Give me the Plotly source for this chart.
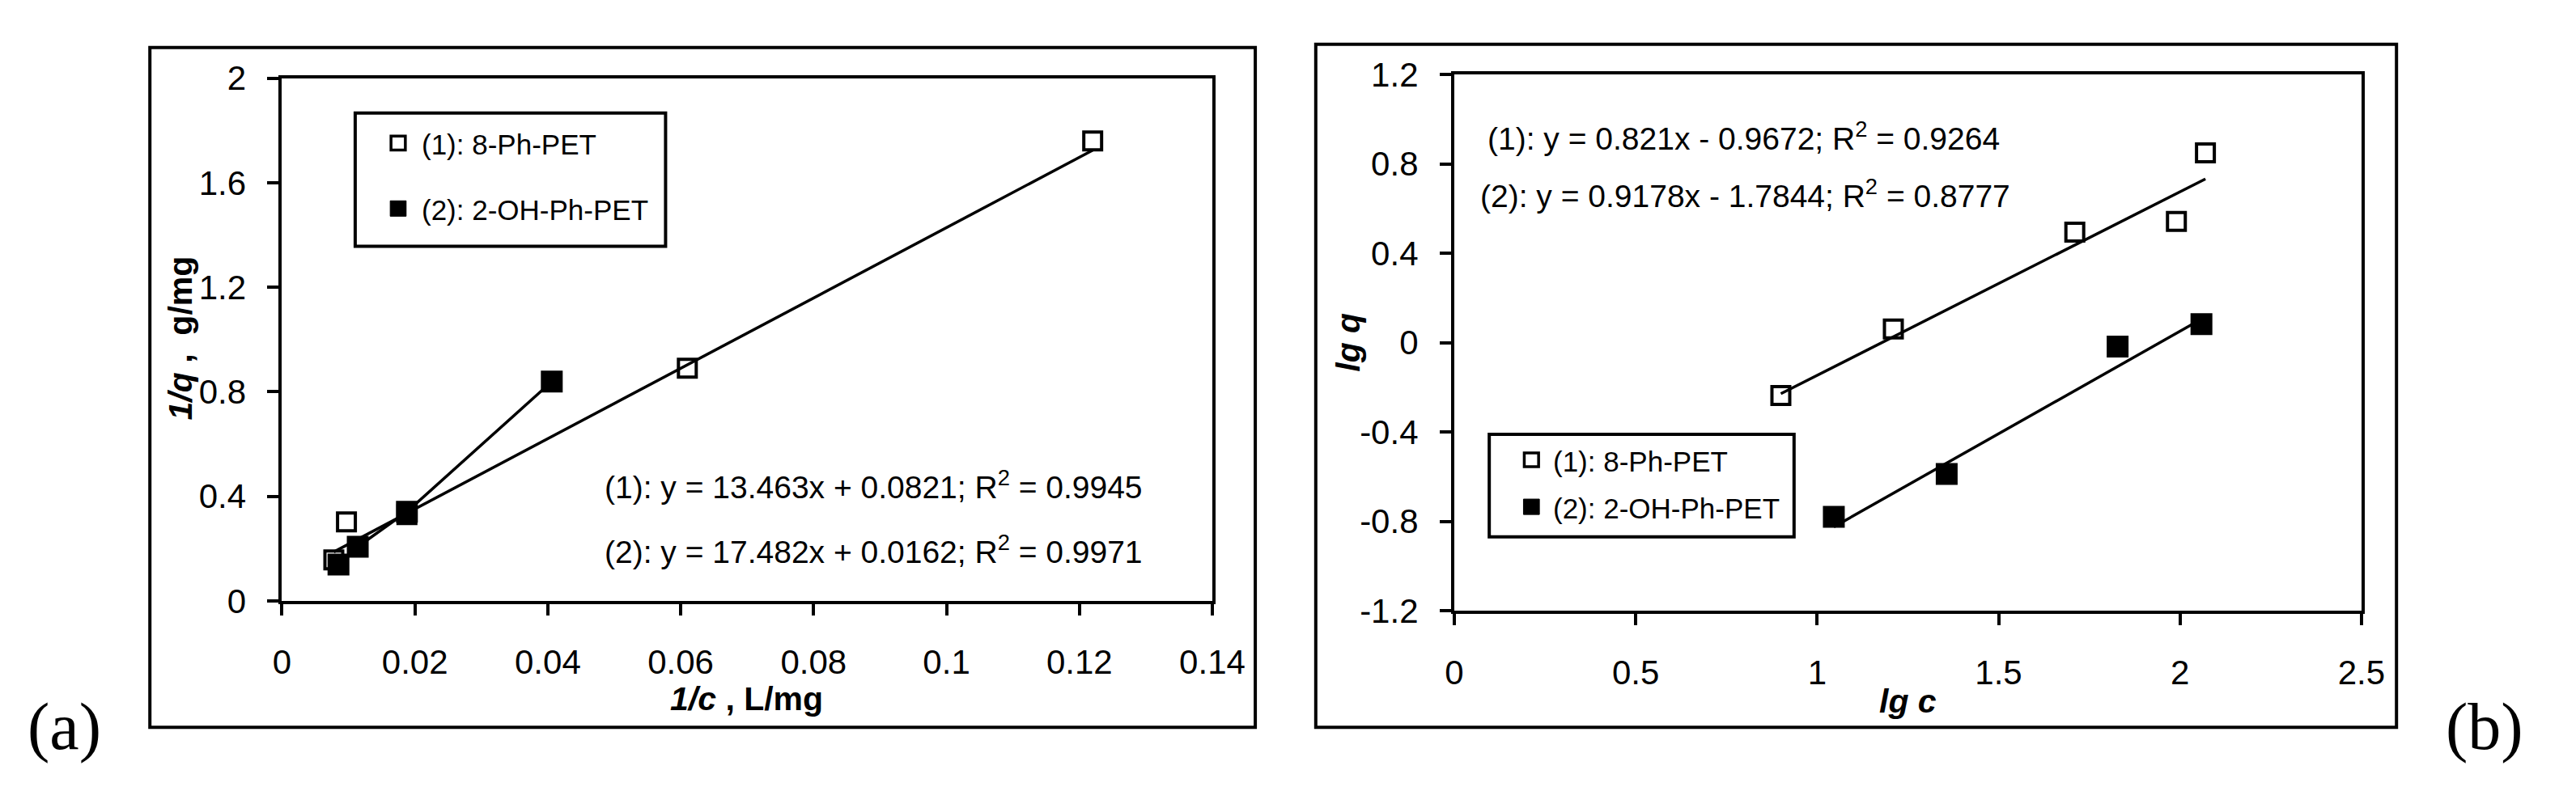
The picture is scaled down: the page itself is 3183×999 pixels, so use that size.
import plotly.graph_objects as go

W, H = 3183, 999
OFF = 8  # default body margin of the html page

# ---- panel (a): Langmuir linearisation ----
a_s1_x = [0.0078, 0.0097, 0.0188, 0.061, 0.122]
a_s1_y = [0.157, 0.302, 0.33, 0.89, 1.76]
a_s2_x = [0.0085, 0.0114, 0.0188, 0.0406]
a_s2_y = [0.139, 0.207, 0.341, 0.839]
a_fit1 = (13.463, 0.0821)

a_xticks = [0, 0.02, 0.04, 0.06, 0.08, 0.1, 0.12, 0.14]
a_xtext = ["0", "0.02", "0.04", "0.06", "0.08", "0.1", "0.12", "0.14"]
a_yticks = [0, 0.4, 0.8, 1.2, 1.6, 2]
a_ytext = ["0", "0.4", "0.8", "1.2", "1.6", "2"]

# ---- panel (b): Freundlich linearisation ----
b_s1_x = [0.90, 1.21, 1.71, 1.99, 2.07]
b_s1_y = [-0.237, 0.061, 0.494, 0.542, 0.849]
b_s2_x = [1.046, 1.357, 1.828, 2.059]
b_s2_y = [-0.779, -0.588, -0.018, 0.083]
b_fit1 = (0.821, -0.9672)
b_fit2 = (0.9178, -1.7844)

b_xticks = [0, 0.5, 1, 1.5, 2, 2.5]
b_xtext = ["0", "0.5", "1", "1.5", "2", "2.5"]
b_yticks = [-1.2, -0.8, -0.4, 0, 0.4, 0.8, 1.2]
b_ytext = ["-1.2", "-0.8", "-0.4", "0", "0.4", "0.8", "1.2"]

names = ["(1): 8-Ph-PET", "(2): 2-OH-Ph-PET"]
eq_a = ["(1): y = 13.463x + 0.0821; R<sup>2</sup> = 0.9945",
        "(2): y = 17.482x + 0.0162; R<sup>2</sup> = 0.9971"]
eq_b = ["(1): y = 0.821x - 0.9672; R<sup>2</sup> = 0.9264",
        "(2): y = 0.9178x - 1.7844; R<sup>2</sup> = 0.8777"]

FONT = "Liberation Sans, Arial, sans-serif"
LW = 4
FIT_W = 3.5


def px(x):
    return (x - OFF) / W


def py(y):
    return 1 - (y - OFF) / H


def fit_line(xs, coef):
    lo, hi = min(xs), max(xs)
    return [lo, hi], [coef[0] * lo + coef[1], coef[0] * hi + coef[1]]


fig = go.Figure()

open_marker = dict(symbol="square-open", size=22, color="black", line=dict(width=4, color="black"))
fill_marker = dict(symbol="square", size=24, color="black", line=dict(width=3, color="black"))

# panel (a)
lx, ly = fit_line(a_s1_x, a_fit1)
fig.add_trace(go.Scatter(x=lx, y=ly, mode="lines", line=dict(color="black", width=FIT_W),
                         showlegend=False, xaxis="x", yaxis="y"))
fig.add_trace(go.Scatter(x=a_s2_x, y=a_s2_y, mode="lines", line=dict(color="black", width=FIT_W),
                         showlegend=False, xaxis="x", yaxis="y"))
fig.add_trace(go.Scatter(x=a_s1_x, y=a_s1_y, mode="markers", marker=open_marker, name=names[0],
                         showlegend=False, xaxis="x", yaxis="y"))
fig.add_trace(go.Scatter(x=a_s2_x, y=a_s2_y, mode="markers", marker=fill_marker, name=names[1],
                         showlegend=False, xaxis="x", yaxis="y"))

# panel (b)
for xs, coef in [(b_s1_x, b_fit1), (b_s2_x, b_fit2)]:
    lx, ly = fit_line(xs, coef)
    fig.add_trace(go.Scatter(x=lx, y=ly, mode="lines", line=dict(color="black", width=FIT_W),
                             showlegend=False, xaxis="x2", yaxis="y2"))
fig.add_trace(go.Scatter(x=b_s1_x, y=b_s1_y, mode="markers", marker=open_marker, name=names[0],
                         showlegend=False, xaxis="x2", yaxis="y2"))
fig.add_trace(go.Scatter(x=b_s2_x, y=b_s2_y, mode="markers", marker=fill_marker, name=names[1],
                         showlegend=False, xaxis="x2", yaxis="y2"))

axis_common = dict(
    showline=True, linecolor="black", linewidth=LW, mirror=True,
    ticks="outside", ticklen=14, tickwidth=LW, tickcolor="black",
    showgrid=False, zeroline=False,
    tickfont=dict(family=FONT, size=42, color="black"),
)

fig.update_layout(
    width=W, height=H, autosize=False,
    margin=dict(l=0, r=0, t=0, b=0),
    paper_bgcolor="white", plot_bgcolor="white",
    font=dict(family=FONT, color="black"),
    showlegend=False,
    xaxis=dict(domain=[px(342), px(1511)], range=[0, 0.14], tickmode="array",
               tickvals=a_xticks, ticktext=a_xtext, anchor="y",
               ticklabelstandoff=22, **axis_common),
    yaxis=dict(domain=[py(755), py(77)], range=[0, 2], tickmode="array",
               tickvals=a_yticks, ticktext=a_ytext, anchor="x",
               ticklabelstandoff=18, **axis_common),
    xaxis2=dict(domain=[px(1815), px(2955)], range=[0, 2.5], tickmode="array",
                tickvals=b_xticks, ticktext=b_xtext, anchor="y2",
                ticklabelstandoff=22, **axis_common),
    yaxis2=dict(domain=[py(768), py(72)], range=[-1.2, 1.2], tickmode="array",
                tickvals=b_yticks, ticktext=b_ytext, anchor="x2",
                ticklabelstandoff=18, **axis_common),
)


def rect(x0, y0, x1, y1, width=LW, fill="rgba(0,0,0,0)"):
    fig.add_shape(type="rect", xref="paper", yref="paper",
                  x0=px(x0), x1=px(x1), y0=py(y1), y1=py(y0),
                  line=dict(color="black", width=width), fillcolor=fill)


def text(x, y, s, size, xanchor="left", angle=0, family=FONT):
    fig.add_annotation(xref="paper", yref="paper", x=px(x), y=py(y), text=s,
                       showarrow=False, xanchor=xanchor, yanchor="middle", textangle=angle,
                       font=dict(family=family, size=size, color="black"))


# outer frames of the two panels
rect(176, 37, 1565, 919)
rect(1641, 33, 2999, 919)

# legend boxes drawn by hand (box, symbol, label)
for (bx0, by0, bx1, by1), sx, rows, tx in [
    ((434, 122, 824, 295), 488, (161, 246), 515),
    ((1859, 539, 2242, 672), 1912, (572, 633), 1937),
]:
    rect(bx0, by0, bx1, by1, fill="white")
    rect(sx - 9, rows[0] - 9, sx + 9, rows[0] + 9, width=3.5, fill="white")
    rect(sx - 10, rows[1] - 10, sx + 10, rows[1] + 10, width=1, fill="black")
    text(tx, rows[0] + 2, names[0], 35)
    text(tx, rows[1] + 2, names[1], 35)

# axis titles
text(926, 882, "<b><i>1/c</i> , L/mg</b>", 41, "center")
text(214, 414, "<b><i>1/q</i> ,  g/mg</b>", 41, "center", -90)
text(2385, 885, "<b><i>lg c</i></b>", 41, "center")
text(1681, 420, "<b><i>lg q</i></b>", 41, "center", -90)

# regression equations
text(745, 605, eq_a[0], 39)
text(745, 688, eq_a[1], 39)
text(1855, 152, eq_b[0], 39)
text(1846, 227, eq_b[1], 39)

# panel letters
serif = "Liberation Serif, Times New Roman, serif"
text(68, 918, "(a)", 82, "center", family=serif)
text(3110, 918, "(b)", 82, "center", family=serif)

fig.write_html("out.html")
